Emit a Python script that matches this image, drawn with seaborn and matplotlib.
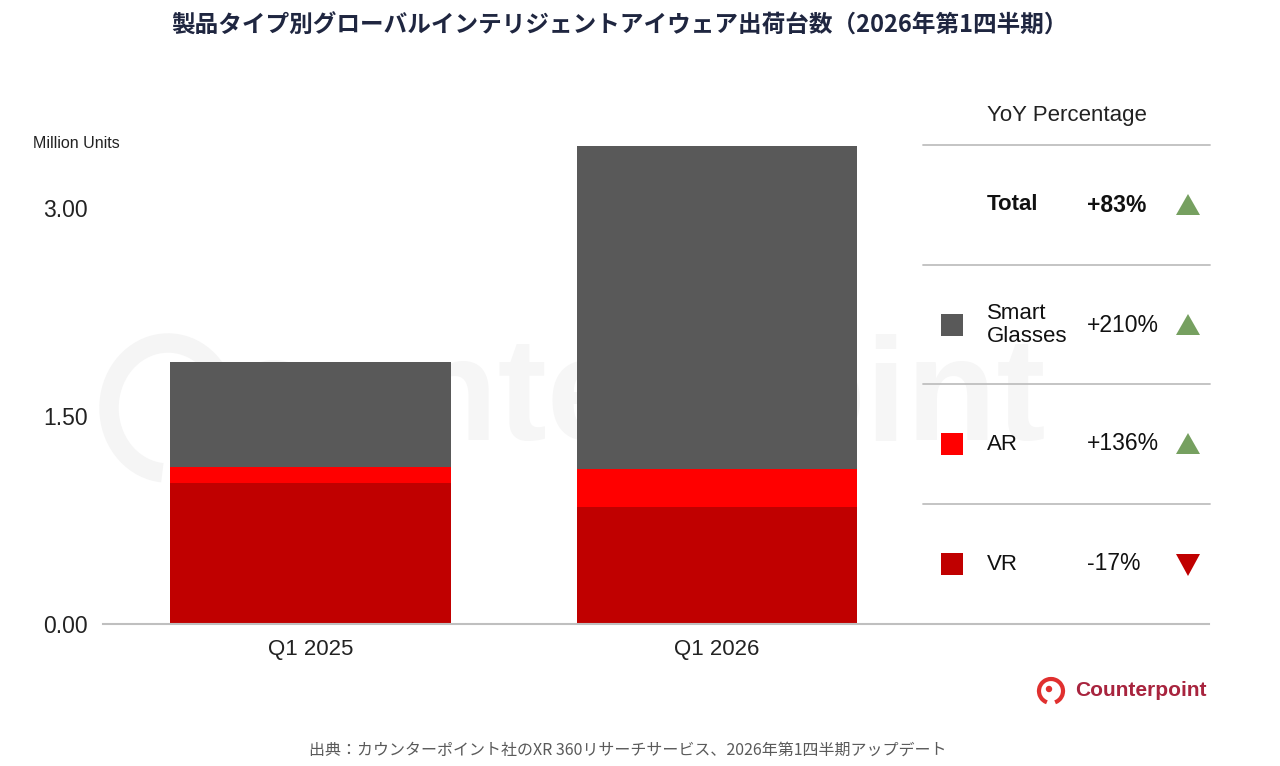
import numpy as np
import pandas as pd
import seaborn as sns
import matplotlib.pyplot as plt
from matplotlib.patches import Rectangle, Polygon, Arc, Circle

# Shipments (million units)
quarters = ['Q1 2025', 'Q1 2026']
vr_units = [1.015, 0.846]
ar_units = [0.115, 0.272]
smart_glasses_units = [0.757, 2.331]

# YoY table on the right
legend_labels = ['Total', 'Smart\nGlasses', 'AR', 'VR']
legend_yoy = ['+83%', '+210%', '+136%', '-17%']
legend_up = [True, True, True, False]

y_ticks = [0.0, 1.5, 3.0]

GRAY = '#595959'
AR_RED = '#ff0000'
VR_RED = '#c00000'
GREEN = '#76a060'

df = pd.DataFrame({'quarter': quarters, 'vr': vr_units,
                   'ar': ar_units, 'sg': smart_glasses_units})
df['vr_ar'] = df['vr'] + df['ar']
df['total'] = df['vr_ar'] + df['sg']

sns.set_theme(style='white')
plt.rcParams['font.family'] = ['Liberation Sans', 'Noto Sans CJK JP', 'DejaVu Sans']

W, H = 1280, 766
fig = plt.figure(figsize=(W / 100, H / 100), dpi=100)

# background layer in pixel coordinates: faint watermark
bg = fig.add_axes([0, 0, 1, 1])
bg.set_xlim(0, W)
bg.set_ylim(H, 0)
bg.axis('off')
bg.add_patch(Arc((168, 408), 118, 130, theta1=95, theta2=415, color='#f5f5f5', lw=14))
bg.text(228, 402, 'ounterpoint', ha='left', va='center', fontsize=106,
        fontweight='bold', color='#f6f6f6')

# main axes: x from 103 to 1209 px, zero line at y=624 px
ax = fig.add_axes([103 / W, (H - 624) / H, (1209 - 103) / W, 524 / H])
ax.patch.set_alpha(0)

# stacked bars drawn as overlapping cumulative totals
sns.barplot(data=df, x='quarter', y='total', color=GRAY, saturation=1,
            width=0.69, linewidth=0, ax=ax, zorder=2)
sns.barplot(data=df, x='quarter', y='vr_ar', color=AR_RED, saturation=1,
            width=0.69, linewidth=0, ax=ax, zorder=3)
sns.barplot(data=df, x='quarter', y='vr', color=VR_RED, saturation=1,
            width=0.69, linewidth=0, ax=ax, zorder=4)

ax.set_xlim(-0.5105, 2.2103)
ax.set_ylim(0, 524 / 138.67)
ax.set_yticks(y_ticks)
ax.set_yticklabels([f'{t:.2f}' for t in y_ticks])
ax.set_xlabel('')
ax.set_ylabel('')
ax.tick_params(axis='y', length=0, pad=11, labelsize=16.5, labelcolor='#222222')
ax.tick_params(axis='x', length=0, pad=11, labelsize=16, labelcolor='#222222')
for side in ['top', 'right', 'left']:
    ax.spines[side].set_visible(False)
ax.spines['bottom'].set_color('#bfbfbf')
ax.spines['bottom'].set_linewidth(1.5)
ax.spines['bottom'].set_zorder(5)

# overlay in pixel coordinates for the annotations
ov = fig.add_axes([0, 0, 1, 1])
ov.set_xlim(0, W)
ov.set_ylim(H, 0)
ov.axis('off')
ov.patch.set_alpha(0)

ov.text(619, 26, '製品タイプ別グローバルインテリジェントアイウェア出荷台数（2026年第1四半期）',
        ha='center', va='center', fontsize=17, fontweight='bold', color='#1f2640',
        family=['Noto Sans CJK JP', 'DejaVu Sans'])
ov.text(33, 143, 'Million Units', ha='left', va='center', fontsize=11.5, color='#222222')

ov.text(1067, 115, 'YoY Percentage', ha='center', va='center', fontsize=16, color='#222222')
for yl in [145, 265, 384, 504]:
    ov.plot([923, 1210], [yl, yl], color='#bfbfbf', lw=1.3)

row_y = [205, 325, 444, 564]
swatches = [None, GRAY, AR_RED, VR_RED]
for lab, yoy, up, sw, yc in zip(legend_labels, legend_yoy, legend_up, swatches, row_y):
    bold = 'bold' if lab == 'Total' else 'normal'
    if sw is not None:
        ov.add_patch(Rectangle((941, yc - 11), 22, 22, color=sw, lw=0))
    ov.text(987, yc, lab, ha='left', va='center', fontsize=16, fontweight=bold,
            color='#111111', linespacing=1.1)
    ov.text(1087, yc, yoy, ha='left', va='center', fontsize=16.5, fontweight=bold,
            color='#111111')
    if up:
        tri = [(1176, yc + 10), (1200, yc + 10), (1188, yc - 11)]
        ov.add_patch(Polygon(tri, closed=True, color=GREEN, lw=0))
    else:
        tri = [(1176, yc - 10), (1200, yc - 10), (1188, yc + 12)]
        ov.add_patch(Polygon(tri, closed=True, color=VR_RED, lw=0))

# logo
ov.add_patch(Arc((1051, 691), 24, 24, theta1=110, theta2=430, color='#e0302f', lw=3))
ov.add_patch(Circle((1049, 689), 2.5, color='#e0302f'))
ov.text(1075, 691, 'Counterpoint', ha='left', va='center', fontsize=15,
        fontweight='bold', color='#a8243e')

ov.text(628, 750, '出典：カウンターポイント社のXR 360リサーチサービス、2026年第1四半期アップデート',
        ha='center', va='center', fontsize=11.5, color='#5a5a5a',
        family=['Noto Sans CJK JP', 'DejaVu Sans'])

fig.savefig('out.png', dpi=100, facecolor='white')
